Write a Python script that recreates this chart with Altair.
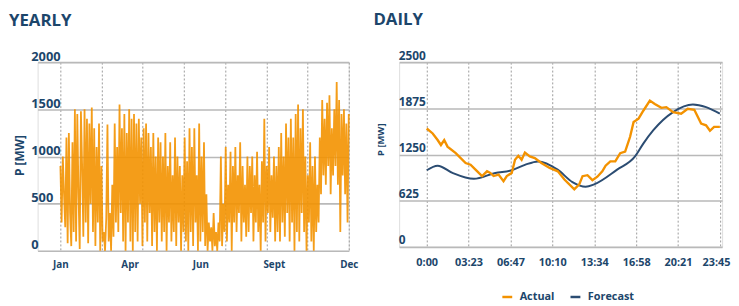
import altair as alt
import pandas as pd

ORANGE = "#f39200"
NAVY_LINE = "#2b4c72"
NAVY_TEXT = "#1c466b"
GRID = "#b9b9b9"
DOT = "#9a9a9a"
FONT = "Open Sans"

# ---------------- YEARLY data ----------------
yearly_values = [
    900, 300, 1000, 600, 250, 1200, 80, 1250, 400, 50, 1150, 200,
    1500, 100, 1450, 600, 20, 1480, 900, 150, 1500, 300, 1400, 80,
    1350, 500, 1520, 200, 1300, 50, 1100, 300, 1350, 0, 900, 100,
    200, 0, 350, 1340, 100, 400, 0, 700, 150, 1350, 300, 1100,
    200, 1550, 400, 1300, 100, 1450, 0, 1250, 300, 1500, 100, 1400,
    0, 1450, 200, 1350, 100, 1400, 500, 1200, 50, 1300, 300, 1350,
    100, 1250, 400, 1100, 50, 1250, 200, 1000, 0, 1200, 300, 1150,
    100, 1000, 200, 1250, 0, 900, 300, 1150, 100, 800, 200, 1200,
    50, 1000, 300, 900, 0, 800, 200, 1200, 100, 950, 0, 1300,
    200, 1100, 50, 1300, 300, 800, 0, 1350, 100, 1000, 200, 1150,
    50, 600, 0, 300, 100, 250, 0, 400, 50, 200, 0, 300,
    100, 1000, 50, 500, 200, 1100, 100, 700, 300, 1050, 0, 900,
    300, 1100, 200, 800, 400, 1150, 100, 900, 300, 700, 150, 1000,
    200, 900, 400, 1000, 100, 800, 300, 1050, 200, 700, 0, 950,
    300, 1400, 100, 900, 400, 1100, 200, 800, 350, 1000, 100, 900,
    200, 1100, 100, 1250, 300, 1000, 150, 1350, 400, 1200, 100, 1400,
    300, 1200, 0, 1450, 200, 1550, 100, 1300, 400, 1500, 200, 1000,
    0, 800, 300, 1150, 100, 900, 0, 1000, 200, 700, 300, 1200,
    600, 1600, 800, 1400, 700, 1570, 900, 1650, 600, 1300, 800, 1500,
    900, 1790, 700, 1600, 200, 1450, 800, 1500, 600, 1350, 300, 1450,
]
month_labels = ["Jan", "Apr", "Jun", "Sept", "Dec"]
month_pos = [0, 24, 48.5, 74, 100]
year_grid = [0, 14.29, 28.57, 42.86, 57.14, 71.43, 85.71, 100]
yearly_ticks = [0, 500, 1000, 1500, 2000]

# ---------------- DAILY data ----------------
actual_min = [0, 29, 53, 69, 85, 101, 141, 189, 213, 237, 253, 269, 293, 309, 325,
              349, 373, 389, 413, 429, 445, 461, 477, 501, 525, 557, 597, 637, 669,
              717, 741, 757, 781, 805, 829, 853, 869, 892, 916, 940, 964, 988, 1005,
              1029, 1053, 1084, 1108, 1140, 1164, 1197, 1236, 1268, 1300, 1333, 1357,
              1376, 1396, 1424]
actual_mw = [1602, 1535, 1446, 1379, 1446, 1357, 1268, 1135, 1112, 1045, 1001, 959,
             1023, 1001, 959, 979, 890, 959, 1001, 1179, 1232, 1179, 1277, 1224, 1201,
             1135, 1068, 1023, 912, 779, 845, 957, 970, 903, 950, 1023, 1099, 1157,
             1157, 1268, 1290, 1490, 1691, 1735, 1846, 1980, 1935, 1882, 1891, 1824,
             1802, 1869, 1855, 1668, 1646, 1571, 1624, 1624]
forecast_min = [0, 53, 125, 229, 333, 413, 477, 541, 636, 708, 772, 813, 925, 1012,
                1053, 1101, 1197, 1293, 1357, 1424]
forecast_mw = [1037, 1099, 1001, 921, 1001, 1037, 1110, 1157, 1045, 877, 814, 845,
               1045, 1224, 1401, 1579, 1824, 1926, 1891, 1802]
daily_tick_min = [0, 203, 407, 610, 814, 1018, 1221, 1425]
daily_tick_labels = ["0:00", "03:23", "06:47", "10:10", "13:34", "16:58", "20:21", "23:45"]
daily_ticks = [0, 625, 1250, 1875, 2500]
series_names = ["Actual", "Forecast"]


def label_expr(values, labels):
    expr = "''"
    for v, l in reversed(list(zip(values, labels))):
        expr = f"abs(datum.value - {v}) < 0.01 ? '{l}' : ({expr})"
    return expr


# ---------------- YEARLY panel ----------------
n = len(yearly_values)
ydf = pd.DataFrame({"t": [i * 100 / (n - 1) for i in range(n)], "p": yearly_values})
mdf = pd.DataFrame({"t": month_pos, "label": month_labels})
yx = alt.Scale(domain=[-7.9, 100], nice=False, zero=False)

y_line = alt.Chart(ydf).mark_line(color=ORANGE, strokeWidth=1.8, opacity=0.9).encode(
    x=alt.X("t:Q", scale=yx, axis=alt.Axis(
        values=year_grid, grid=True, gridDash=[2, 2], gridColor=DOT, gridWidth=1,
        labels=False, ticks=False, domain=False, title=None)),
    y=alt.Y("p:Q", scale=alt.Scale(domain=[0, 2000], nice=False), axis=alt.Axis(
        values=yearly_ticks, format="d", grid=True, gridColor=GRID, gridWidth=1.6,
        domain=False, ticks=False, labelAlign="left", labelPadding=7,
        labelBaseline="alphabetic", labelOffset=-2, labelFontSize=13,
        labelFontWeight="bold", labelColor=NAVY_TEXT, labelFont=FONT,
        title="P [MW]", titleFont=FONT, titleFontSize=12, titleFontWeight="bold",
        titleColor=NAVY_TEXT, titleX=-18, titleY=94, titleBaseline="middle",
        titleAlign="center", titleAngle=-90)),
)
y_months = alt.Chart(mdf).mark_point(opacity=0).encode(
    x=alt.X("t:Q", scale=yx, axis=alt.Axis(
        orient="bottom", values=month_pos, labelExpr=label_expr(month_pos, month_labels),
        grid=False, ticks=False, domain=False, title=None, labelPadding=9,
        labelFlush=False, labelFontSize=10, labelFontWeight="bold",
        labelColor=NAVY_TEXT, labelFont=FONT)),
)
yearly = alt.layer(y_line, y_months).resolve_axis(x="independent").properties(
    width=315, height=191,
    title=alt.TitleParams("YEARLY", anchor="start", frame="group", dx=-29, fontSize=17,
                          font=FONT, fontWeight="bold", color=NAVY_TEXT,
                          baseline="alphabetic", offset=8),
)

# ---------------- DAILY panel ----------------
adf = pd.DataFrame({"m": actual_min, "p": actual_mw, "s": series_names[0]})
fdf = pd.DataFrame({"m": forecast_min, "p": forecast_mw, "s": series_names[1]})
dx_scale = alt.Scale(domain=[-134, 1435], nice=False, zero=False)
dy_scale = alt.Scale(domain=[0, 2500], nice=False)
color = alt.Color("s:N", scale=alt.Scale(domain=series_names, range=[ORANGE, NAVY_LINE]),
                  legend=alt.Legend(title=None, orient="none", legendX=469, legendY=231,
                                    direction="horizontal", symbolType="stroke",
                                    symbolSize=100, symbolStrokeWidth=2.5,
                                    labelFont=FONT, labelFontSize=11,
                                    labelFontWeight="bold", labelColor=NAVY_TEXT,
                                    labelOffset=6, columnPadding=10))
dx_axis = alt.Axis(values=daily_tick_min, labelExpr=label_expr(daily_tick_min, daily_tick_labels),
                   grid=True, gridDash=[2, 2], gridColor=DOT, gridWidth=1, ticks=False,
                   domain=False, title=None, labelPadding=10, labelFontSize=11,
                   labelFlush=3, labelFlushOffset=10,
                   labelFontWeight="bold", labelColor=NAVY_TEXT, labelFont=FONT)
dy_axis = alt.Axis(values=daily_ticks, format="d", grid=True, gridColor=GRID, gridWidth=1.6,
                   domain=False, ticks=False, labelAlign="left", labelPadding=1,
                   labelBaseline="alphabetic", labelOffset=-3, labelFontSize=12,
                   labelFontWeight="bold", labelColor=NAVY_TEXT, labelFont=FONT,
                   title="P [MW]", titleFont=FONT, titleFontSize=9.5,
                   titleFontWeight="bold", titleColor=NAVY_TEXT, titleX=-19, titleY=78,
                   titleBaseline="middle", titleAlign="center", titleAngle=-90)

f_line = alt.Chart(fdf).mark_line(strokeWidth=2, interpolate="monotone").encode(
    x=alt.X("m:Q", scale=dx_scale, axis=dx_axis),
    y=alt.Y("p:Q", scale=dy_scale, axis=dy_axis),
    color=color,
)
a_line = alt.Chart(adf).mark_line(strokeWidth=2.4).encode(
    x=alt.X("m:Q", scale=dx_scale, axis=dx_axis),
    y=alt.Y("p:Q", scale=dy_scale, axis=dy_axis),
    color=color,
)
daily = alt.layer(f_line, a_line).properties(
    width=327, height=187,
    title=alt.TitleParams("DAILY", anchor="start", frame="group", dx=-26, fontSize=17,
                          font=FONT, fontWeight="bold", color=NAVY_TEXT,
                          baseline="alphabetic", offset=8),
)

chart = alt.hconcat(yearly, daily, spacing=14).properties(
    padding={"top": 0, "left": 0, "right": 0, "bottom": 0}
).configure_view(stroke=None).configure(background="white")

chart.save("out.html", embed_options={"renderer": "svg", "actions": False})
